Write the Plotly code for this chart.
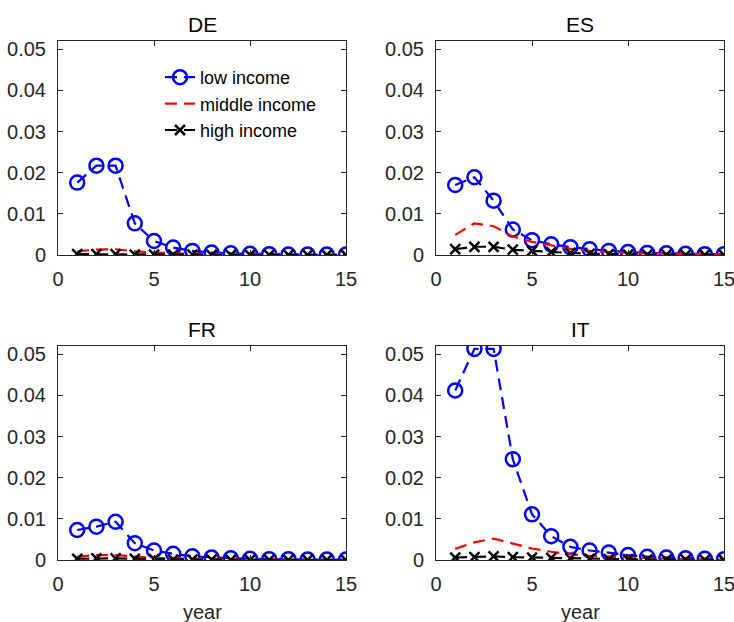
import plotly.graph_objects as go

# Years since shock
years = list(range(1, 16))

countries = ["DE", "ES", "FR", "IT"]

low_income = {
    "DE": [0.0176, 0.0217, 0.0217, 0.0077, 0.0034, 0.0018, 0.0010, 0.0006, 0.0004, 0.0003, 0.0002, 0.0001, 0.0001, 0.0001, 0.0001],
    "ES": [0.0170, 0.0189, 0.0132, 0.0062, 0.0036, 0.0026, 0.0019, 0.0014, 0.0010, 0.0007, 0.0005, 0.0004, 0.0003, 0.0002, 0.0002],
    "FR": [0.0073, 0.0081, 0.0093, 0.0041, 0.0023, 0.0015, 0.0009, 0.0006, 0.0004, 0.0003, 0.0002, 0.0002, 0.0001, 0.0001, 0.0001],
    "IT": [0.0412, 0.0513, 0.0513, 0.0245, 0.0111, 0.0058, 0.0032, 0.0023, 0.0018, 0.0012, 0.0008, 0.0006, 0.0004, 0.0003, 0.0002],
}
middle_income = {
    "DE": [0.0009, 0.0013, 0.0014, 0.0009, 0.0006, 0.0004, 0.0003, 0.0002, 0.0001, 0.0001, 0.0001, 0.0000, 0.0000, 0.0000, 0.0000],
    "ES": [0.0049, 0.0077, 0.0070, 0.0045, 0.0032, 0.0023, 0.0015, 0.0010, 0.0007, 0.0005, 0.0004, 0.0003, 0.0002, 0.0001, 0.0001],
    "FR": [0.0008, 0.0012, 0.0012, 0.0008, 0.0005, 0.0004, 0.0003, 0.0002, 0.0001, 0.0001, 0.0001, 0.0000, 0.0000, 0.0000, 0.0000],
    "IT": [0.0027, 0.0043, 0.0052, 0.0040, 0.0028, 0.0020, 0.0014, 0.0010, 0.0008, 0.0006, 0.0004, 0.0003, 0.0002, 0.0002, 0.0001],
}
high_income = {
    "DE": [0.0002, 0.0002, 0.0002, 0.0001, 0.0001, 0.0001, 0.0001, 0.0000, 0.0000, 0.0000, 0.0000, 0.0000, 0.0000, 0.0000, 0.0000],
    "ES": [0.0014, 0.0020, 0.0020, 0.0013, 0.0010, 0.0007, 0.0005, 0.0003, 0.0002, 0.0001, 0.0001, 0.0001, 0.0000, 0.0000, 0.0000],
    "FR": [0.0003, 0.0004, 0.0004, 0.0003, 0.0002, 0.0001, 0.0001, 0.0001, 0.0000, 0.0000, 0.0000, 0.0000, 0.0000, 0.0000, 0.0000],
    "IT": [0.0006, 0.0007, 0.0009, 0.0007, 0.0006, 0.0005, 0.0004, 0.0003, 0.0002, 0.0002, 0.0001, 0.0001, 0.0001, 0.0000, 0.0000],
}

series_names = ["low income", "middle income", "high income"]
x_ticks = [0, 5, 10, 15]
y_ticks = [0, 0.01, 0.02, 0.03, 0.04, 0.05]
y_tick_text = ["0", "0.01", "0.02", "0.03", "0.04", "0.05"]

W, H = 734, 622
FONT = "Liberation Sans, Arial, Helvetica, sans-serif"
AXIS_COLOR = "#262626"

# panel boxes in pixels: (left, right, top, bottom)
panels = {
    "DE": (58, 346, 41, 255),
    "ES": (436, 724, 41, 255),
    "FR": (58, 346, 346, 560),
    "IT": (436, 724, 346, 560),
}

fig = go.Figure()
layout = {}
annotations = []

for i, c in enumerate(countries):
    n = "" if i == 0 else str(i + 1)
    xa, ya = "x" + n, "y" + n
    left, right, top, bottom = panels[c]
    show = (i == 0)

    fig.add_trace(go.Scatter(
        x=years, y=low_income[c], xaxis=xa, yaxis=ya, name=series_names[0],
        mode="lines+markers", legendgroup="low", showlegend=show,
        line=dict(color="#0000ff", width=2.2, dash="12px,7px"),
        marker=dict(symbol="circle-open", size=14, color="#0000ff",
                    line=dict(color="#0000ff", width=2.5)),
    ))
    fig.add_trace(go.Scatter(
        x=years, y=middle_income[c], xaxis=xa, yaxis=ya, name=series_names[1],
        mode="lines", legendgroup="mid", showlegend=show,
        line=dict(color="#ff0000", width=2.2, dash="12px,7px"),
    ))
    fig.add_trace(go.Scatter(
        x=years, y=high_income[c], xaxis=xa, yaxis=ya, name=series_names[2],
        mode="lines+markers", legendgroup="high", showlegend=show,
        line=dict(color="#000000", width=2.2, dash="12px,7px"),
        marker=dict(symbol="x-thin-open", size=10, color="#000000",
                    line=dict(color="#000000", width=2.5)),
    ))

    axis_common = dict(
        showgrid=False, zeroline=False, showline=True, linecolor=AXIS_COLOR,
        linewidth=1, mirror="ticks", ticks="inside", ticklen=5,
        tickcolor=AXIS_COLOR, tickwidth=1, automargin=False,
        ticklabeloverflow="allow",
        tickfont=dict(family=FONT, size=20, color=AXIS_COLOR),
    )
    layout["xaxis" + n] = dict(
        axis_common, domain=[left / W, right / W], anchor=ya,
        range=[0, 15], tickvals=x_ticks, ticklabelstandoff=6,
    )
    layout["yaxis" + n] = dict(
        axis_common, domain=[1 - bottom / H, 1 - top / H], anchor=xa,
        range=[0, 0.052], tickvals=y_ticks, ticktext=y_tick_text,
        ticklabelstandoff=7,
    )

    annotations.append(dict(
        text=c, x=(left + right) / 2 / W, y=1 - top / H, xref="paper", yref="paper",
        xanchor="center", yanchor="bottom", yshift=3, showarrow=False,
        font=dict(family=FONT, size=21, color="#000000"),
    ))
    if c in ("FR", "IT"):
        annotations.append(dict(
            text="year", x=(left + right) / 2 / W, y=1 - 599 / H, xref="paper", yref="paper",
            xanchor="center", yanchor="top", showarrow=False,
            font=dict(family=FONT, size=20, color=AXIS_COLOR),
        ))

fig.update_layout(
    **layout,
    width=W, height=H,
    margin=dict(l=0, r=0, t=0, b=0, autoexpand=False),
    paper_bgcolor="white", plot_bgcolor="white",
    annotations=annotations,
    legend=dict(
        x=160 / W, y=1 - 59 / H, xanchor="left", yanchor="top",
        bgcolor="rgba(0,0,0,0)", borderwidth=0, tracegroupgap=0,
        font=dict(family=FONT, size=18, color="#000000"),
        itemwidth=30,
    ),
)

fig.write_html("out.html")
